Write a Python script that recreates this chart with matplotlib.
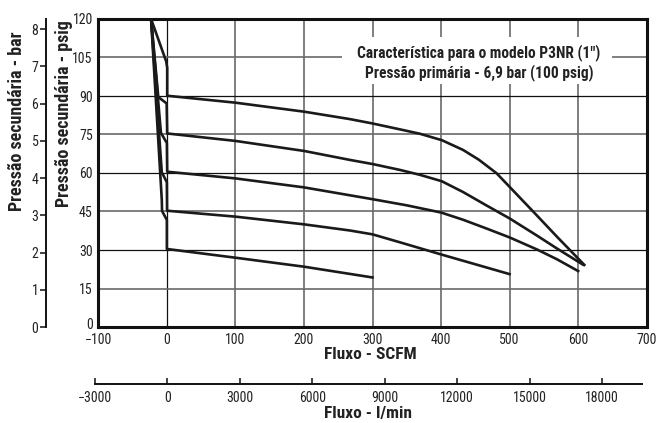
import matplotlib
matplotlib.use("Agg")
import matplotlib.pyplot as plt
from matplotlib import font_manager as fm
from matplotlib.patches import Rectangle
from matplotlib.transforms import ScaledTranslation

# ---------------- data ----------------
flow_90 = [-23, -1, 0.5, 0.5, 100, 200, 267, 300, 340, 369, 401, 432, 455, 481, 500, 540, 569, 609]
psig_90 = [120, 103.5, 101, 90.1, 87.4, 83.9, 81.0, 79.3, 77.0, 75.3, 72.8, 69.0, 65.2, 59.9, 54.6, 43.4, 35.2, 24.2]

flow_75 = [-23, -12.5, -0.3, 0.5, 100, 200, 267, 300, 340, 369, 401, 432, 466, 500, 540, 569, 607]
psig_75 = [120, 89.6, 87.1, 75.4, 72.5, 68.6, 65.1, 63.5, 61.2, 59.3, 56.8, 52.6, 47.4, 42.3, 35.6, 30.6, 24.3]

flow_60 = [-23, -8.6, 0, 0.5, 100, 200, 300, 350, 400, 432, 466, 500, 540, 569, 600]
psig_60 = [120, 75.6, 71.7, 60.5, 57.9, 54.4, 49.8, 47.4, 44.6, 41.8, 38.4, 34.9, 30.2, 26.4, 21.8]

flow_45 = [-23, -7.4, 0, 0.3, 100, 200, 267, 300, 340, 401, 500]
psig_45 = [120, 60.3, 56.4, 45.3, 43.0, 40.0, 37.6, 36.1, 33.0, 28.2, 20.6]

flow_30 = [-23, -7.4, -7.0, 0, 0, 100, 200, 300]
psig_30 = [120, 49.6, 45.2, 41.7, 30.4, 27.0, 23.5, 19.3]

curves = [(flow_90, psig_90), (flow_75, psig_75), (flow_60, psig_60),
          (flow_45, psig_45), (flow_30, psig_30)]

scfm_ticks = [-100, 0, 100, 200, 300, 400, 500, 600, 700]
psig_ticks = [0, 15, 30, 45, 60, 75, 90, 105, 120]
bar_ticks = [0, 1, 2, 3, 4, 5, 6, 7, 8]
lmin_ticks = [-3000, 0, 3000, 6000, 9000, 12000, 15000, 18000]

title_lines = ["Característica para o modelo P3NR (1\")",
               "Pressão primária - 6,9 bar (100 psig)"]
xlabel_scfm = "Fluxo - SCFM"
xlabel_lmin = "Fluxo - l/min"
ylabel_psig = "Pressão secundária - psig"
ylabel_bar = "Pressão secundária - bar"

PSI_PER_BAR = 14.5

# ---------------- font choice ----------------
names = {f.name for f in fm.fontManager.ttflist}
fam = ["DejaVu Sans"]
for cand in ["Roboto Condensed", "Liberation Sans Narrow", "Sofia Sans Condensed"]:
    if cand in names:
        fam = [cand, "DejaVu Sans"]
        break
plt.rcParams["font.family"] = fam

TXT = "#222222"

# ---------------- figure ----------------
W, H = 658, 423
fig = plt.figure(figsize=(W / 100, H / 100), dpi=100)

def fx(px):
    return px / W

def fy(py):
    return 1 - py / H

ax_l, ax_r, ax_t, ax_b = 98.3, 646.7, 19, 327
ax = fig.add_axes([fx(ax_l), fy(ax_b), fx(ax_r - ax_l), (ax_b - ax_t) / H])
ax.set_xlim(-100, 700)
ax.set_ylim(0, 120)

# grid
for v in scfm_ticks[1:-1]:
    if v == 0:
        ax.axvline(v, color="#111111", lw=0.9, zorder=1)
    else:
        ax.axvline(v, color="#6a6a6a", lw=1.2, zorder=1)
for h in psig_ticks[1:-1]:
    if h % 30 == 0:
        ax.axhline(h, color="#111111", lw=0.9, zorder=1)
    else:
        ax.axhline(h, color="#6a6a6a", lw=1.2, zorder=1)

# white box behind annotation
ax.add_patch(Rectangle((255, 94.5), 395, 18.5, facecolor="white", edgecolor="none", zorder=2))

for fl, ps in curves:
    ax.plot(fl, ps, color="#1a1a1a", lw=1.9, solid_joinstyle="round", zorder=3)

ax.text(455, 107, title_lines[0], ha="center", va="center", fontsize=11.2,
        fontweight="bold", color=TXT, zorder=4)
ax.text(455, 99.3, title_lines[1], ha="center", va="center", fontsize=11.2,
        fontweight="bold", color=TXT, zorder=4)

ax.set_xticks(scfm_ticks)
ax.set_yticks(psig_ticks)
ax.tick_params(axis="both", length=0, labelsize=10, colors=TXT)
ax.tick_params(axis="x", pad=4)
ax.tick_params(axis="y", pad=4)
for s in ax.spines.values():
    s.set_linewidth(2.2)
    s.set_color("#111111")
# lift the bottom "0" psig label a little so it does not collide with "-100"
zero_lbl = ax.get_yticklabels()[0]
zero_lbl.set_transform(zero_lbl.get_transform() + ScaledTranslation(0, 2.5 / 72, fig.dpi_scale_trans))

# bar axis
axb = fig.add_axes([fx(46), fy(ax_b), 0.0005, (ax_b - ax_t) / H])
axb.set_ylim(0, 120 / PSI_PER_BAR)
axb.set_yticks(bar_ticks)
axb.set_xticks([])
for k in ["top", "right", "bottom"]:
    axb.spines[k].set_visible(False)
axb.spines["left"].set_linewidth(1.4)
axb.spines["left"].set_color("#111111")
axb.tick_params(axis="y", length=4, width=1.2, pad=1.5, labelsize=10, colors=TXT)
axb.patch.set_visible(False)

# l/min axis
lm_l, lm_r, lm_y = 95.0, 641.7, 384
axl = fig.add_axes([fx(lm_l), fy(lm_y), fx(lm_r - lm_l), 0.0005])
axl.set_xlim(-3000, 19644)
axl.set_xticks(lmin_ticks)
axl.set_yticks([])
for k in ["top", "right", "left"]:
    axl.spines[k].set_visible(False)
axl.spines["bottom"].set_linewidth(1.4)
axl.spines["bottom"].set_color("#111111")
axl.tick_params(axis="x", direction="in", length=4, width=1.2, pad=5, labelsize=10, colors=TXT)
axl.patch.set_visible(False)

# labels
fig.text(fx(370), fy(354), xlabel_scfm, ha="center", va="center", fontsize=12.5, fontweight="bold", color=TXT)
fig.text(fx(368), fy(413), xlabel_lmin, ha="center", va="center", fontsize=12.5, fontweight="bold", color=TXT)
fig.text(fx(64), fy(114), ylabel_psig, ha="center", va="center", rotation=90, fontsize=13, fontweight="bold", color=TXT)
fig.text(fx(17), fy(121), ylabel_bar, ha="center", va="center", rotation=90, fontsize=13, fontweight="bold", color=TXT)

fig.savefig("out.png", dpi=100)
